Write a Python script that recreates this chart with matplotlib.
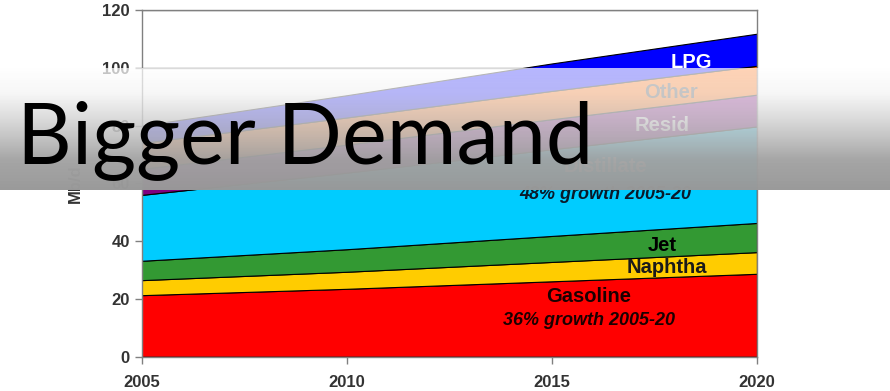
import numpy as np
import matplotlib
matplotlib.use('Agg')
import matplotlib.pyplot as plt

# Demand by product, million b/d
years = [2005, 2010, 2015, 2020]
gasoline = [21.3, 23.5, 26.1, 28.7]
naphtha = [5.2, 5.9, 6.7, 7.5]
jet = [6.7, 7.8, 9.0, 10.1]
distillate = [22.8, 26.5, 30.0, 33.4]
resid = [9.0, 9.7, 10.4, 11.0]
other = [9.0, 9.4, 9.8, 10.0]
lpg = [6.0, 7.7, 9.5, 11.1]

colors = ['#ff0000', '#ffcc00', '#339933', '#00ccff', '#800080', '#ff6600', '#0000ff']

plt.rcParams['font.family'] = ['Liberation Sans', 'DejaVu Sans']

fig = plt.figure(figsize=(8.9, 3.91), dpi=100)
ax = fig.add_axes([0.159, 0.0877, 0.6915, 0.8867])

ax.stackplot(years, gasoline, naphtha, jet, distillate, resid, other, lpg,
             colors=colors, edgecolor='black', linewidth=0.8, zorder=2)

ax.set_xlim(2005, 2020)
ax.set_ylim(0, 120)
ax.set_xticks([2005, 2010, 2015, 2020])
ax.set_yticks(range(0, 121, 20))
ax.grid(axis='y', color='#808080', linewidth=1.0, zorder=0)
ax.set_axisbelow(True)
for s in ax.spines.values():
    s.set_color('#808080')
    s.set_linewidth(1.0)
ax.tick_params(colors='#808080', length=5, width=1, labelcolor='#333333', labelsize=12)
for lbl in ax.get_xticklabels() + ax.get_yticklabels():
    lbl.set_fontweight('bold')
ax.tick_params(axis='x', pad=8)
ax.set_ylabel('Mb/d', fontsize=12, fontweight='bold', color='#333333', labelpad=14)

# series labels
lab = dict(fontsize=14.5, fontweight='bold', ha='center', va='center', zorder=5)
ax.text(2018.4, 102.0, 'LPG', color='white', **lab)
ax.text(2017.9, 91.6, 'Other', color='#404040', **lab)
ax.text(2017.7, 79.9, 'Resid', color='white', **lab)
ax.text(2016.3, 65.7, 'Distillate', color='white', **lab)
ax.text(2017.7, 38.4, 'Jet', color='black', **lab)
ax.text(2017.8, 31.0, 'Naphtha', color='#1a1a1a', **lab)
ax.text(2015.9, 20.8, 'Gasoline', color='#1a0000', **lab)
ax.text(2016.3, 56.0, '48% growth 2005-20', color='#0a1a2a', fontsize=13,
        fontweight='bold', style='italic', ha='center', va='center', zorder=5)
ax.text(2015.9, 12.7, '36% growth 2005-20', color='#1a0000', fontsize=13,
        fontweight='bold', style='italic', ha='center', va='center', zorder=5)

# translucent title banner
bax = fig.add_axes([0, 0.514, 1, 0.312], zorder=10)
bax.axis('off')
t = np.linspace(0, 1, 200)
gray = np.interp(t, [0, 0.2, 0.5, 0.75, 1], [1.0, 0.96, 0.78, 0.64, 0.60])
alpha = np.interp(t, [0, 0.2, 0.5, 0.75, 1], [0.72, 0.75, 0.87, 0.97, 0.99])
img = np.zeros((200, 2, 4))
img[:, :, 0] = gray[:, None]
img[:, :, 1] = gray[:, None]
img[:, :, 2] = gray[:, None]
img[:, :, 3] = alpha[:, None]
bax.imshow(img, aspect='auto', extent=[0, 1, 0, 1], interpolation='bilinear')
bax.set_xlim(0, 1)
bax.set_ylim(0, 1)
bax.text(0.019, 1 - 163 / 391, 'Bigger Demand', transform=fig.transFigure,
         fontsize=61, family='Lato', color='black', ha='left', va='baseline')

fig.savefig('out.png', dpi=100)
